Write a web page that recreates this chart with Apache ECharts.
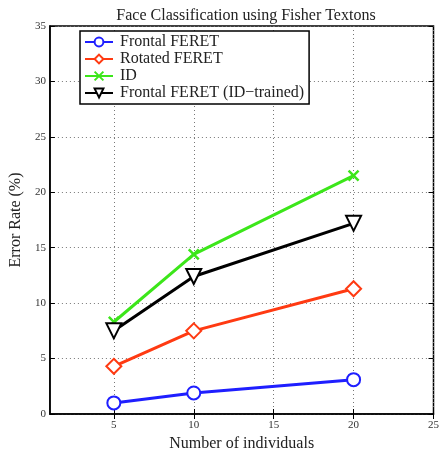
<!DOCTYPE html>
<html>
<head>
<meta charset="utf-8">
<script src="https://cdn.jsdelivr.net/npm/echarts@6/dist/echarts.min.js"></script>
<style>html,body{margin:0;padding:0;background:#fff}#c{width:442px;height:457px}</style>
</head>
<body>
<div id="c"></div>
<script>
const categories = [5, 10, 20];
const frontalFeret = [1.0, 1.9, 3.1];
const rotatedFeret = [4.3, 7.5, 11.3];
const idSeries = [8.3, 14.4, 21.5];
const frontalIdTrained = [7.5, 12.4, 17.2];
const xTicks = [5, 10, 15, 20, 25];
const seriesNames = ['Frontal FERET', 'Rotated FERET', 'ID', 'Frontal FERET (ID\u2212trained)'];

const FONT = '"Liberation Serif", "Times New Roman", serif';
const pair = (vals) => categories.map((c, i) => [c, vals[i]]);
const xPath = 'path://M0,0L10,10M10,0L0,10';

const chart = echarts.init(document.getElementById('c'), null, {renderer: 'canvas'});
const gridLine = {show: true, lineStyle: {color: '#777', type: [1, 3], width: 1}};
const tickStyle = {inside: true, length: 5, lineStyle: {color: '#000', width: 1}};
const mkSeries = (name, vals, color, symbol, size, rotate) => ({
  name, type: 'line', data: pair(vals), symbol, symbolSize: size, symbolRotate: rotate || 0,
  lineStyle: {color, width: 3}, itemStyle: {color, borderColor: color, borderWidth: 2.5},
  showAllSymbol: true, z: 3, animation: false
});
chart.setOption({
  animation: false,
  title: {text: 'Face Classification using Fisher Textons', left: 241, textAlign: 'center', top: 3,
    textStyle: {fontFamily: FONT, fontSize: 16, fontWeight: 'normal', color: '#222'}},
  grid: {left: 44, right: 4, top: 26, bottom: 35, show: true, borderColor: '#000', borderWidth: 1.5, backgroundColor: 'transparent'},
  legend: {
    left: 80, top: 31, orient: 'vertical', backgroundColor: '#fff', borderColor: '#000', borderWidth: 1.5,
    padding: [3, 5, 3, 4], itemGap: 1, itemWidth: 28, itemHeight: 11,
    textStyle: {fontFamily: FONT, fontSize: 16, color: '#222', padding: [0, 0, 0, 2]},
    data: seriesNames
  },
  xAxis: [{
    type: 'value', min: 1, max: 25, position: 'bottom',
    name: 'Number of individuals', nameLocation: 'middle', nameGap: 22,
    nameTextStyle: {fontFamily: FONT, fontSize: 16, color: '#222'},
    axisLine: {lineStyle: {color: '#000', width: 1.5}},
    axisTick: Object.assign({customValues: xTicks}, tickStyle),
    axisLabel: {customValues: xTicks, fontFamily: FONT, fontSize: 11, color: '#333', margin: 6},
    splitLine: gridLine
  }, {
    type: 'value', min: 1, max: 25, position: 'top',
    axisLine: {show: false}, axisTick: Object.assign({customValues: xTicks}, tickStyle),
    axisLabel: {show: false}, splitLine: {show: false}
  }],
  yAxis: [{
    type: 'value', min: 0, max: 35, interval: 5,
    name: 'Error Rate (%)', nameLocation: 'middle', nameGap: 22,
    nameTextStyle: {fontFamily: FONT, fontSize: 16, color: '#222'},
    axisLine: {show: true, lineStyle: {color: '#000', width: 1.5}},
    axisTick: tickStyle,
    axisLabel: {fontFamily: FONT, fontSize: 11, color: '#333', margin: 4},
    splitLine: gridLine
  }, {
    type: 'value', min: 0, max: 35, interval: 5, position: 'right',
    axisLine: {show: false}, axisTick: tickStyle, axisLabel: {show: false}, splitLine: {show: false}
  }],
  series: [
    mkSeries(seriesNames[0], frontalFeret, '#1f1fff', 'emptyCircle', 13),
    mkSeries(seriesNames[1], rotatedFeret, '#ff3a12', 'emptyDiamond', 15),
    mkSeries(seriesNames[2], idSeries, '#3ce61a', xPath, 10),
    mkSeries(seriesNames[3], frontalIdTrained, '#000', 'emptyTriangle', 15, 180)
  ]
});
</script>
</body>
</html>
